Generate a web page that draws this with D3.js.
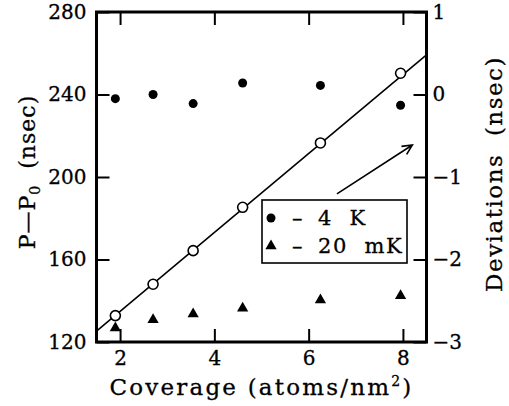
<!DOCTYPE html>
<html>
<head>
<meta charset="utf-8">
<script src="https://cdn.jsdelivr.net/npm/d3@7"></script>
<style>
  body { margin: 0; background: #fff; }
  svg { display: block; }
  text { font-family: "DejaVu Serif", serif; fill: #000; stroke: #000; stroke-width: 0.3px; }
</style>
</head>
<body>
<div id="chart"></div>
<script>
// coverage (atoms/nm^2)
const coverage = [1.9, 2.7, 3.55, 4.6, 6.25, 7.95];
// P - P0 (nsec), open circles, left axis
const period = [132.8, 148.0, 164.3, 185.3, 216.5, 250.3];
// deviations (nsec), right axis
const dev4K = [-0.05, 0.0, -0.11, 0.14, 0.11, -0.13];
const dev20mK = [-2.83, -2.73, -2.66, -2.59, -2.49, -2.44];
// straight line fit drawn through the open circles
const fitX = [1.5, 8.5];
const fitY = [125.3, 259.2];

const xTicks = [2, 4, 6, 8];
const yLeftTicks = [120, 160, 200, 240, 280];
const yRightTicks = [-3, -2, -1, 0, 1];

const width = 509, height = 406;
const m = { left: 96.5, right: 426.5, top: 12, bottom: 342 };

const svg = d3.select('#chart').append('svg')
  .attr('width', width)
  .attr('height', height);

const x = d3.scaleLinear().domain([1.5, 8.5]).range([m.left, m.right]);
const yL = d3.scaleLinear().domain([120, 280]).range([m.bottom, m.top]);
const yR = d3.scaleLinear().domain([-3, 1]).range([m.bottom, m.top]);

const tickLen = 13;
const fmt = d => d < 0 ? '\u2212' + Math.abs(d) : String(d);

// axes, ticks pointing inward
svg.append('g').attr('transform', `translate(0,${m.bottom})`)
  .call(d3.axisBottom(x).tickValues(xTicks).tickSize(-tickLen).tickPadding(9).tickFormat(fmt));
svg.append('g').attr('transform', `translate(0,${m.top})`)
  .call(d3.axisTop(x).tickValues(xTicks).tickSize(-tickLen).tickFormat(''));
svg.append('g').attr('transform', `translate(${m.left},0)`)
  .call(d3.axisLeft(yL).tickValues(yLeftTicks).tickSize(-tickLen).tickPadding(10).tickFormat(fmt));
svg.append('g').attr('transform', `translate(${m.right},0)`)
  .call(d3.axisRight(yR).tickValues(yRightTicks).tickSize(-tickLen).tickPadding(6).tickFormat(fmt));

svg.selectAll('.domain').remove();
svg.selectAll('.tick line').attr('stroke', '#000').attr('stroke-width', 2);
svg.selectAll('.tick text').style('font-size', '20px').style('font-family', '"DejaVu Serif", serif').attr('fill', '#000');

// frame
svg.append('rect')
  .attr('x', m.left).attr('y', m.top)
  .attr('width', m.right - m.left).attr('height', m.bottom - m.top)
  .attr('fill', 'none').attr('stroke', '#000').attr('stroke-width', 3);

svg.append('clipPath').attr('id', 'clip')
  .append('rect').attr('x', m.left).attr('y', m.top)
  .attr('width', m.right - m.left).attr('height', m.bottom - m.top);

const plot = svg.append('g').attr('clip-path', 'url(#clip)');

// fit line
plot.append('path')
  .datum(fitX.map((d, i) => [d, fitY[i]]))
  .attr('d', d3.line().x(d => x(d[0])).y(d => yL(d[1])))
  .attr('fill', 'none').attr('stroke', '#000').attr('stroke-width', 1.6);

// open circles
plot.selectAll('.open').data(coverage).enter().append('circle')
  .attr('cx', d => x(d))
  .attr('cy', (d, i) => yL(period[i]))
  .attr('r', 5)
  .attr('fill', '#fff').attr('stroke', '#000').attr('stroke-width', 1.6);

// 4 K deviations
plot.selectAll('.dot').data(coverage).enter().append('circle')
  .attr('cx', d => x(d))
  .attr('cy', (d, i) => yR(dev4K[i]))
  .attr('r', 4.5)
  .attr('fill', '#000');

// 20 mK deviations
const tri = d3.symbol().type(d3.symbolTriangle).size(55);
plot.selectAll('.tri').data(coverage).enter().append('path')
  .attr('d', tri)
  .attr('transform', (d, i) => `translate(${x(d)},${yR(dev20mK[i])})`)
  .attr('fill', '#000');

// arrow pointing toward the right axis
const arrowFrom = [6.6, 191.8], arrowTo = [8.2, 215.5];
const ax0 = x(arrowFrom[0]), ay0 = yL(arrowFrom[1]);
const ax1 = x(arrowTo[0]), ay1 = yL(arrowTo[1]);
const ang = Math.atan2(ay1 - ay0, ax1 - ax0);
const head = 11, spread = 0.45;
svg.append('path')
  .attr('d', `M${ax0},${ay0}L${ax1},${ay1}` +
    `M${ax1 - head * Math.cos(ang - spread)},${ay1 - head * Math.sin(ang - spread)}L${ax1},${ay1}` +
    `L${ax1 - head * Math.cos(ang + spread)},${ay1 - head * Math.sin(ang + spread)}`)
  .attr('fill', 'none').attr('stroke', '#000').attr('stroke-width', 1.6);

// legend
const legend = svg.append('g').attr('transform', 'translate(262,200)');
legend.append('rect')
  .attr('width', 145).attr('height', 63)
  .attr('fill', '#fff').attr('stroke', '#000').attr('stroke-width', 1.6);
const legendItems = ['4 K', '20 mK'];
legendItems.forEach((label, i) => {
  const g = legend.append('g').attr('transform', `translate(0,${18 + i * 28})`);
  if (i === 0) {
    g.append('circle').attr('cx', 9).attr('cy', 0).attr('r', 4.5).attr('fill', '#000');
  } else {
    g.append('path').attr('d', tri).attr('transform', 'translate(9,0)').attr('fill', '#000');
  }
  g.append('text').attr('x', 30).attr('y', 0).attr('dy', '0.35em')
    .style('font-size', '21px').text('\u2013');
  g.append('text').attr('x', 56).attr('y', 0).attr('dy', '0.35em')
    .style('font-size', '21px').style('letter-spacing', '1.6px')
    .text(label.replace(' ', '\u00a0\u00a0'));
});

// axis titles
const xt = svg.append('text')
  .attr('x', (m.left + m.right) / 2).attr('y', 395)
  .attr('text-anchor', 'middle').style('font-size', '23px').style('letter-spacing', '2.2px');
xt.append('tspan').text('Coverage (atoms/nm');
xt.append('tspan').attr('dy', -9).style('font-size', '14px').text('2');
xt.append('tspan').attr('dy', 9).text(')');

const lt = svg.append('text')
  .attr('transform', `translate(35,${(m.top + m.bottom) / 2 - 5}) rotate(-90)`)
  .attr('text-anchor', 'middle').style('font-size', '22px').style('letter-spacing', '1px');
lt.append('tspan').text('P\u2014P');
lt.append('tspan').attr('dy', 5).style('font-size', '14px').text('0');
lt.append('tspan').attr('dy', -5).text('\u00a0\u00a0(nsec)');

svg.append('text')
  .attr('transform', `translate(502,${(m.top + m.bottom) / 2 - 3}) rotate(-90)`)
  .attr('text-anchor', 'middle').style('font-size', '23px').style('letter-spacing', '1.5px')
  .text('Deviations\u00a0\u00a0(nsec)');
</script>
</body>
</html>
